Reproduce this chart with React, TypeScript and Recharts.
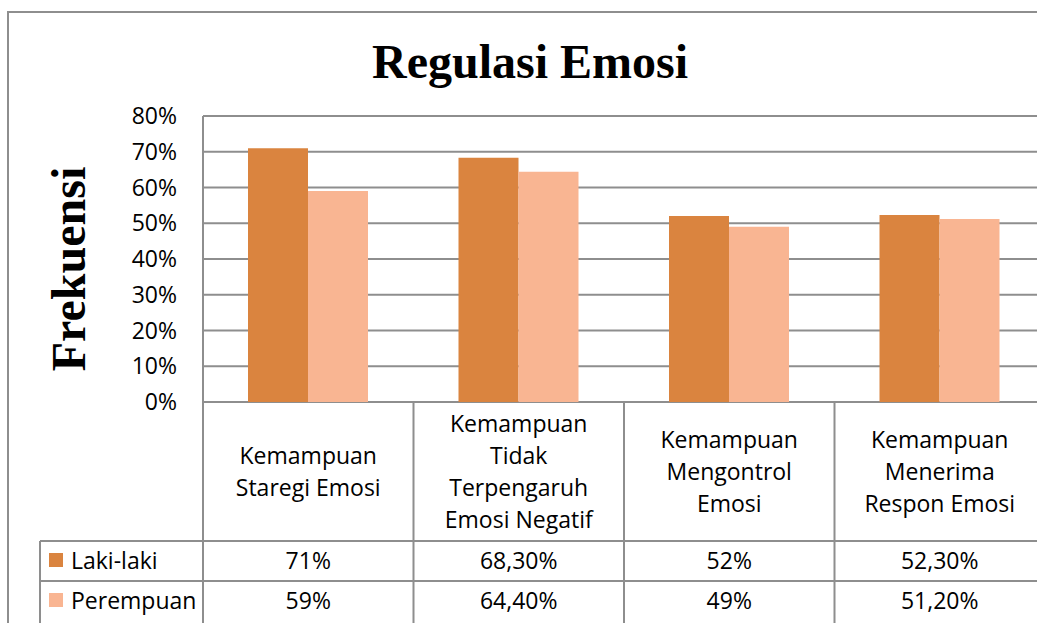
import React from 'react';
import { BarChart, Bar, XAxis, YAxis, CartesianGrid, Customized } from 'recharts';

const categories: string[][] = [
  ['Kemampuan', 'Staregi Emosi'],
  ['Kemampuan', 'Tidak', 'Terpengaruh', 'Emosi Negatif'],
  ['Kemampuan', 'Mengontrol', 'Emosi'],
  ['Kemampuan', 'Menerima', 'Respon Emosi'],
];
const categoryNames = categories.map((l) => l.join(' '));
const lakiLaki = [0.71, 0.683, 0.52, 0.523];
const perempuan = [0.59, 0.644, 0.49, 0.512];
const lakiLabels = ['71%', '68,30%', '52%', '52,30%'];
const perempuanLabels = ['59%', '64,40%', '49%', '51,20%'];
const yTicks = [0, 0.1, 0.2, 0.3, 0.4, 0.5, 0.6, 0.7, 0.8];
const seriesNames = ['Laki-laki', 'Perempuan'];
const titleText = 'Regulasi Emosi';
const yLabelText = 'Frekuensi';

const data = categoryNames.map((name, i) => ({
  name,
  laki: lakiLaki[i],
  perempuan: perempuan[i],
}));

const W = 1070;
const H = 650;
const MARGIN = { top: 116, right: 25, left: 0, bottom: 0 };
const Y_AXIS_W = 203;
const X_AXIS_H = H - MARGIN.top - 286;
const BAND = (W - MARGIN.right - MARGIN.left - Y_AXIS_W) / categories.length;
const HEADER_H = 139;
const ROW_H = 40;
const LINE_H = 32;
const GRID = '#8e8e8e';
const DARK = '#DA843F';
const LIGHT = '#F9B592';
const SANS = '"Open Sans", sans-serif';
const FS = 23;
const colors = [DARK, LIGHT];

const XTick = (props: any) => {
  const { x, y, payload } = props;
  const idx = categoryNames.indexOf(payload.value);
  if (idx < 0) return null;
  const lines = categories[idx];
  const half = BAND / 2;
  const rows = [lakiLabels[idx], perempuanLabels[idx]];
  return (
    <g>
      {idx === 0 && (
        <line x1={x - half} y1={y} x2={x - half} y2={y + 400} stroke={GRID} strokeWidth={2} />
      )}
      <line x1={x + half} y1={y} x2={x + half} y2={y + 400} stroke={GRID} strokeWidth={2} />
      <line x1={x - half} y1={y + HEADER_H} x2={x + half} y2={y + HEADER_H} stroke={GRID} strokeWidth={2} />
      <line x1={x - half} y1={y + HEADER_H + ROW_H} x2={x + half} y2={y + HEADER_H + ROW_H} stroke={GRID} strokeWidth={2} />
      {lines.map((l, i) => (
        <text
          key={i}
          x={x}
          y={y + HEADER_H / 2 + (i - (lines.length - 1) / 2) * LINE_H + 8}
          textAnchor="middle"
          fontFamily={SANS}
          fontSize={FS}
          fill="#000"
        >
          {l}
        </text>
      ))}
      {rows.map((r, i) => (
        <text
          key={'r' + i}
          x={x}
          y={y + HEADER_H + ROW_H * (i + 0.5) + 8}
          textAnchor="middle"
          fontFamily={SANS}
          fontSize={FS}
          fill="#000"
        >
          {r}
        </text>
      ))}
    </g>
  );
};

const Decor = () => {
  const tableTop = MARGIN.top + 286 + HEADER_H;
  const legendLeft = 40;
  const axisX = MARGIN.left + Y_AXIS_W;
  return (
    <g>
      <rect x={8} y={12} width={3000} height={3000} fill="none" stroke={GRID} strokeWidth={2} />
      <text
        x={530}
        y={78}
        textAnchor="middle"
        fontFamily='"Liberation Serif", serif'
        fontWeight="bold"
        fontSize={48}
        fill="#000"
      >
        {titleText}
      </text>
      <text
        x={85}
        y={269}
        transform="rotate(-90 85 269)"
        textAnchor="middle"
        fontFamily='"Liberation Serif", serif'
        fontWeight="bold"
        fontSize={48}
        fill="#000"
      >
        {yLabelText}
      </text>
      <line x1={legendLeft} y1={tableTop} x2={legendLeft} y2={tableTop + 400} stroke={GRID} strokeWidth={2} />
      <line x1={legendLeft} y1={tableTop} x2={axisX} y2={tableTop} stroke={GRID} strokeWidth={2} />
      <line x1={legendLeft} y1={tableTop + ROW_H} x2={axisX} y2={tableTop + ROW_H} stroke={GRID} strokeWidth={2} />
      {seriesNames.map((s, i) => {
        const cy = tableTop + ROW_H * (i + 0.5);
        return (
          <g key={s}>
            <rect x={49} y={cy - 8} width={14} height={14} fill={colors[i]} />
            <text x={71} y={cy + 8} fontFamily={SANS} fontSize={FS} fill="#000">
              {s}
            </text>
          </g>
        );
      })}
    </g>
  );
};

export default function App() {
  return (
    <div
      style={{
        position: 'absolute',
        left: 0,
        top: 0,
        width: 1037,
        height: 623,
        overflow: 'hidden',
        background: '#fff',
      }}
    >
      <BarChart width={W} height={H} data={data} margin={MARGIN} barGap={0} barSize={60}>
        <CartesianGrid vertical={false} stroke={GRID} strokeWidth={2} />
        <XAxis
          dataKey="name"
          interval={0}
          axisLine={false}
          tickLine={false}
          tickSize={0}
          tickMargin={0}
          height={X_AXIS_H}
          tick={XTick}
        />
        <YAxis
          width={Y_AXIS_W}
          domain={[0, 0.8]}
          ticks={yTicks}
          tickFormatter={(v: number) => `${Math.round(v * 100)}%`}
          axisLine={{ stroke: GRID, strokeWidth: 2 }}
          tickLine={false}
          tickMargin={20}
          tick={{ fontFamily: SANS, fontSize: FS, fill: '#000' }}
        />
        <Bar dataKey="laki" name={seriesNames[0]} fill={DARK} isAnimationActive={false} />
        <Bar dataKey="perempuan" name={seriesNames[1]} fill={LIGHT} isAnimationActive={false} />
        <Customized component={Decor} />
      </BarChart>
    </div>
  );
}
